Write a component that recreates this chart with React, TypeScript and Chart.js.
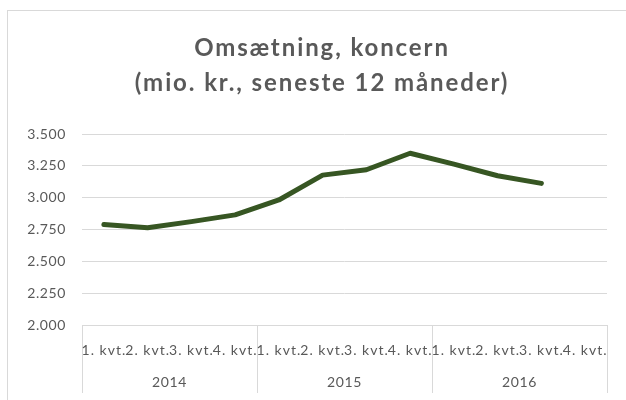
import React, { useEffect, useRef } from "react";
import { Chart, registerables, CategoryScale, LinearScale } from "chart.js";

Chart.register(...registerables);

class SpacedCategoryScale extends CategoryScale {
  static id = "spacedCategory";
  draw(chartArea: any) {
    const ctx: any = this.ctx;
    const prev = ctx.letterSpacing;
    ctx.letterSpacing = (this.options as any).letterSpacing || "0px";
    super.draw(chartArea);
    ctx.letterSpacing = prev || "0px";
  }
}

class SpacedLinearScale extends LinearScale {
  static id = "spacedLinear";
  draw(chartArea: any) {
    const ctx: any = this.ctx;
    const prev = ctx.letterSpacing;
    ctx.letterSpacing = (this.options as any).letterSpacing || "0px";
    super.draw(chartArea);
    ctx.letterSpacing = prev || "0px";
  }
  _computeLabelArea(): any {
    return undefined;
  }
}
Chart.register(SpacedCategoryScale as any, SpacedLinearScale as any);

const titleSpacing = {
  id: "titleSpacing",
  beforeDraw(chart: any) {
    chart.ctx.letterSpacing = "1.9px";
  },
  afterDraw(chart: any) {
    chart.ctx.letterSpacing = "0px";
  },
};

const titleLines = ["Omsætning, koncern", "(mio. kr., seneste 12 måneder)"];
const quarters = [
  "1. kvt.", "2. kvt.", "3. kvt.", "4. kvt.",
  "1. kvt.", "2. kvt.", "3. kvt.", "4. kvt.",
  "1. kvt.", "2. kvt.", "3. kvt.", "4. kvt.",
];
const years = ["2014", "2015", "2016"];
const revenue: (number | null)[] = [
  2790, 2763, 2812, 2865,
  2982, 3177, 3219, 3349,
  3263, 3172, 3112, null,
];
const yMin = 2000;
const yMax = 3500;
const yStep = 250;

const TEXT = "#595959";
const GRID = "#d9d9d9";
const LINE = "#375623";

function fmt(v: number): string {
  return String(Math.round(v)).replace(/\B(?=(\d{3})+(?!\d))/g, ".");
}

export default function App() {
  const ref = useRef<HTMLCanvasElement | null>(null);
  useEffect(() => {
    document.body.style.overflow = "hidden";
    if (!ref.current) return;
    const chart = new Chart(ref.current, {
      type: "line",
      data: {
        labels: quarters,
        datasets: [
          {
            data: revenue,
            borderColor: LINE,
            backgroundColor: LINE,
            borderWidth: 5,
            pointRadius: 0,
            tension: 0,
            borderCapStyle: "round",
            borderJoinStyle: "round",
            xAxisID: "x",
            yAxisID: "y",
          },
        ],
      },
      options: {
        animation: false,
        responsive: true,
        maintainAspectRatio: false,
        layout: { padding: { left: 37, right: 19, top: 0, bottom: 0 } },
        plugins: {
          legend: { display: false },
          tooltip: { enabled: false },
          title: {
            display: true,
            text: titleLines,
            color: TEXT,
            font: { family: "Lato", size: 24, weight: "bold", lineHeight: 35 / 24 },
            padding: { top: 31, bottom: 33 },
          },
        },
        scales: {
          x: {
            type: "spacedCategory" as any,
            letterSpacing: "1px",
            offset: true,
            weight: 0,
            grid: {
              offset: true,
              drawOnChartArea: false,
              drawTicks: true,
              tickLength: 68,
              lineWidth: 1,
              color: (ctx: any) =>
                ctx.index === undefined || ctx.index % 4 === 0 ? GRID : "rgba(0,0,0,0)",
            },
            border: { display: true, color: GRID, width: 1 },
            ticks: {
              color: TEXT,
              font: { family: "Lato", size: 14 },
              padding: -51.4,
              maxRotation: 0,
              minRotation: 0,
              autoSkip: false,
            },
            afterFit: (s: any) => {
              s.height = 37;
            },
          } as any,
          x2: {
            type: "spacedCategory" as any,
            letterSpacing: "0.6px",
            position: "bottom",
            labels: years,
            offset: true,
            weight: 1,
            grid: { display: false, drawTicks: false },
            border: { display: false },
            ticks: {
              color: TEXT,
              font: { family: "Lato", size: 14 },
              padding: 11.6,
              maxRotation: 0,
              autoSkip: false,
            },
            afterFit: (s: any) => {
              s.height = 38;
            },
          } as any,
          y: {
            type: "spacedLinear" as any,
            letterSpacing: "0.6px",
            min: yMin,
            max: yMax,
            grid: { color: GRID, lineWidth: 1, drawTicks: false },
            border: { display: false },
            ticks: {
              stepSize: yStep,
              color: TEXT,
              font: { family: "Lato", size: 14 },
              padding: 16,
              callback: (v: any) => fmt(Number(v)),
            },
            afterFit: (s: any) => {
              s.width = 45;
            },
          } as any,
        },
      },
      plugins: [titleSpacing],
    });
    return () => chart.destroy();
  }, []);

  return (
    <div style={{ position: "fixed", left: 0, top: 0, width: 626, height: 400, overflow: "hidden", background: "#fff" }}>
      <div
        style={{
          position: "absolute",
          left: 7,
          top: 10,
          width: 660,
          height: 440,
          border: `1px solid ${GRID}`,
        }}
      />
      <div style={{ position: "absolute", left: 0, top: 0, width: 626, height: 400 }}>
        <canvas ref={ref} />
      </div>
    </div>
  );
}
